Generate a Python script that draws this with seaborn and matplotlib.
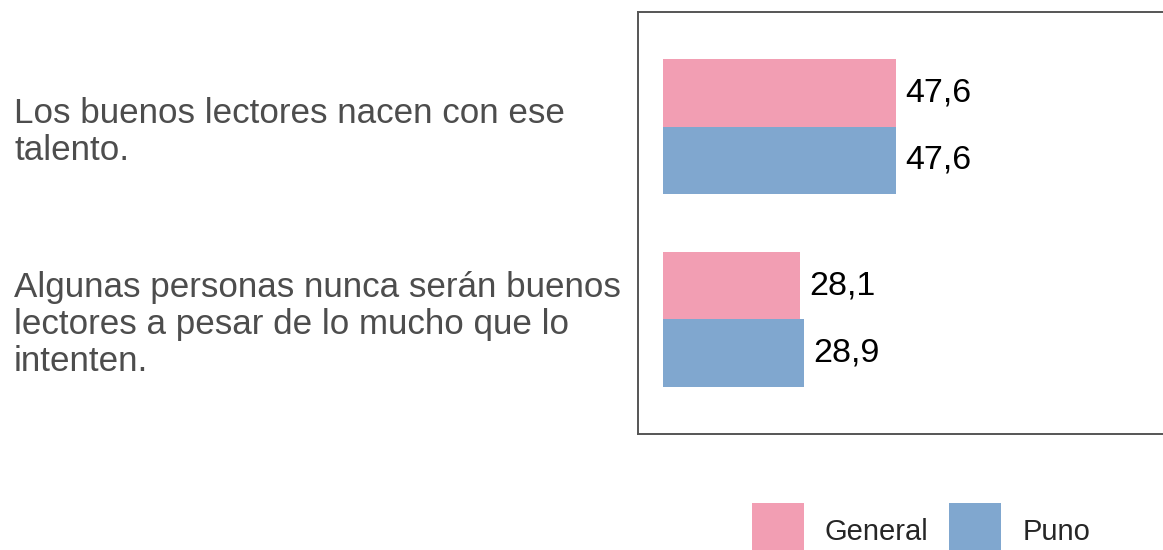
import textwrap
import matplotlib
matplotlib.use("Agg")
import matplotlib.pyplot as plt
from matplotlib.patches import Patch
import pandas as pd
import seaborn as sns

# Survey statements and percentage of agreement per group
statements = [
    "Los buenos lectores nacen con ese talento.",
    "Algunas personas nunca serán buenos lectores a pesar de lo mucho que lo intenten.",
]
groups = ["General", "Puno"]
general_values = [47.6, 28.1]
puno_values = [47.6, 28.9]
palette = {"General": "#F29EB3", "Puno": "#80A7CF"}

df = pd.DataFrame({
    "statement": statements * 2,
    "group": [groups[0]] * len(statements) + [groups[1]] * len(statements),
    "value": general_values + puno_values,
})

sns.set_style("white")
plt.rcParams["font.family"] = ["Liberation Sans", "DejaVu Sans"]

W, H = 1163, 550
fig = plt.figure(figsize=(W / 100, H / 100), dpi=100)
ax = fig.add_axes([638 / W, (H - 434) / H, (1187 - 638) / W, (434 - 12) / H])

sns.barplot(data=df, x="value", y="statement", hue="group", hue_order=groups,
            palette=palette, orient="h", width=0.7, saturation=1,
            linewidth=0, ax=ax, legend=False)

for container in ax.containers:
    labels = [f"{v:.1f}".replace(".", ",") for v in container.datavalues]
    ax.bar_label(container, labels=labels, padding=6.5, fontsize=24.5, color="black")

ax.set_xlim(-5.1, 107.1)
ax.set_ylim(1.595, -0.595)
ax.set_xlabel("")
ax.set_ylabel("")
ax.set_xticks([])

wrapped = [textwrap.fill(s, 35) for s in statements]
ax.set_yticks(range(len(statements)))
ax.set_yticklabels(wrapped, fontsize=25.2, color="#4D4D4D", ha="left",
                   linespacing=1.15)
ax.tick_params(axis="y", length=0, pad=624 * 0.72)

for sp in ax.spines.values():
    sp.set_visible(True)
    sp.set_color("#555555")
    sp.set_linewidth(1.4)

handles = [Patch(facecolor=palette[g], edgecolor="none") for g in groups]
fig.legend(handles, groups, loc="center", bbox_to_anchor=(921 / W, 1 - 531 / H),
           ncol=2, frameon=False, fontsize=21, handlelength=1.78,
           handleheight=2.55, handletextpad=0.72, columnspacing=0.72,
           borderpad=0, borderaxespad=0)

fig.savefig("out.png", dpi=100)
